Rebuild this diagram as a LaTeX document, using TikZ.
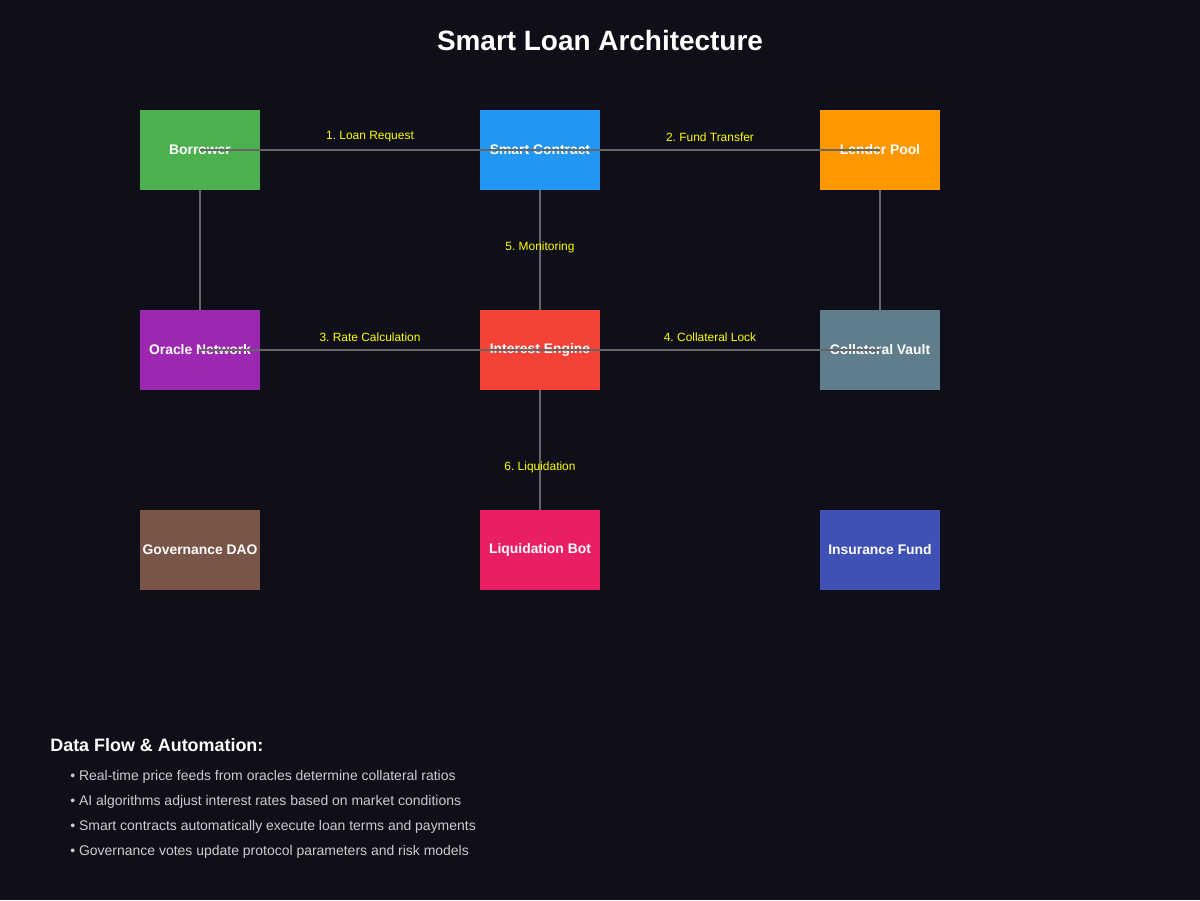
\documentclass[tikz,border=0pt]{standalone}
\usepackage{fontspec}
\setmainfont{Liberation Sans}
\usetikzlibrary{positioning}
\frenchspacing
\definecolor{bgdark}{HTML}{0F0F1A}
\definecolor{linegray}{HTML}{666666}
\definecolor{labelyellow}{HTML}{FFFF00}
\definecolor{bulletgray}{HTML}{CCCCCC}
\definecolor{cborrower}{HTML}{4CAF50}
\definecolor{ccontract}{HTML}{2196F3}
\definecolor{clender}{HTML}{FF9800}
\definecolor{coracle}{HTML}{9C27B0}
\definecolor{cinterest}{HTML}{F44336}
\definecolor{cvault}{HTML}{607D8B}
\definecolor{cdao}{HTML}{795548}
\definecolor{cbot}{HTML}{E91E63}
\definecolor{cfund}{HTML}{3F51B5}
\tikzset{
  box/.style={minimum width=2.4cm, minimum height=1.6cm, inner sep=0pt,
    text=white, font=\fontsize{7.9}{9}\selectfont\bfseries},
  link/.style={linegray, line width=1.1pt},
  flowlabel/.style={text=labelyellow, font=\fontsize{6.8}{8}\selectfont, inner sep=0pt},
  bullet/.style={anchor=west, text=bulletgray, font=\fontsize{7.95}{9}\selectfont, inner sep=0pt}
}
\begin{document}
\begin{tikzpicture}[x=0.02cm, y=-0.02cm]
                % Background
                \fill[bgdark] (0,0) rectangle (1200,900);
                \node[text=white, font=\fontsize{15.9}{18}\selectfont\bfseries] (title) at (600,41) {Smart Loan Architecture};
                % Vertical links (behind the boxes)
                \coordinate (cb) at (200,150); \coordinate (co) at (200,350);
                \coordinate (cs) at (540,150); \coordinate (ci) at (540,350);
                \coordinate (cl) at (880,150); \coordinate (cv) at (880,350);
                \coordinate (cq) at (540,550);
                \draw[link] (cb) -- (co);
                \draw[link] (cs) -- (ci);
                \draw[link] (cl) -- (cv);
                \draw[link] (ci) -- (cq);
                % Components
                \foreach \n/\x/\y/\c/\t in {borrower/200/150/cborrower/Borrower,
                    contract/540/150/ccontract/Smart Contract,
                    lender/880/150/clender/Lender Pool,
                    oracle/200/350/coracle/Oracle Network,
                    engine/540/350/cinterest/Interest Engine,
                    vault/880/350/cvault/Collateral Vault,
                    dao/200/550/cdao/Governance DAO,
                    bot/540/550/cbot/Liquidation Bot,
                    fund/880/550/cfund/Insurance Fund}
                    \node[box, fill=\c] (\n) at (\x,\y) {\t};
                % Horizontal links (over the boxes)
                \draw[link] (borrower.center) -- (contract.center) -- (lender.center);
                \draw[link] (oracle.center) -- (engine.center) -- (vault.center);
                % Flow labels
                \node[flowlabel] (l1) at (370,137) {1. Loan Request};
                \node[flowlabel] (l2) at (710,137) {2. Fund Transfer};
                \node[flowlabel] (l3) at (370,337) {3. Rate Calculation};
                \node[flowlabel] (l4) at (710,337) {4. Collateral Lock};
                \node[flowlabel] (l5) at (540,247) {5. Monitoring};
                \node[flowlabel] (l6) at (540,467) {6. Liquidation};
                % Notes
                \node[anchor=west, text=white, inner sep=0pt, font=\fontsize{10.2}{12}\selectfont\bfseries] (notes) at (50,745) {Data Flow \& Automation:};
                \node[bullet] (n1) at (70,776.5) {• Real-time price feeds from oracles determine collateral ratios};
                \node[bullet] (n2) at (70,801.5) {• AI algorithms adjust interest rates based on market conditions};
                \node[bullet] (n3) at (70,826.5) {• Smart contracts automatically execute loan terms and payments};
                \node[bullet] (n4) at (70,851.5) {• Governance votes update protocol parameters and risk models};
            \end{tikzpicture}
\end{document}
